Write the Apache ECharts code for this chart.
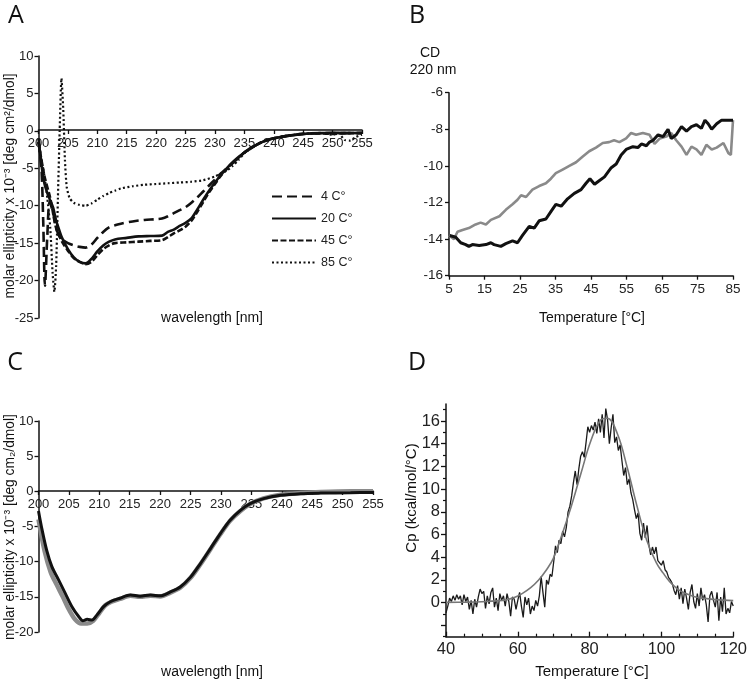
<!DOCTYPE html>
<html><head><meta charset="utf-8">
<script src="https://cdn.jsdelivr.net/npm/echarts@6/dist/echarts.min.js"></script>
<style>html,body{margin:0;padding:0;background:#fff}#c{width:750px;height:680px}</style>
</head><body><div id="c"></div>
<script>
// ---------- Panel A: CD spectra at four temperatures ----------
const A_4C = [[200,-1.5],[200.5,-5],[200.8,-12],[201.1,-20.7],[201.5,-14],[201.9,-9.5],[202.5,-11],[203,-13],[203.5,-14],[204,-14.5],[205,-15],[206,-15.3],[207,-15.5],[208,-15.6],[209,-15.2],[210,-14.3],[211,-13.5],[212,-12.9],[213,-12.6],[214,-12.4],[216,-12.1],[218,-11.9],[220,-11.8],[221,-11.7],[222,-11.4],[223,-11.0],[224,-10.6],[225,-10.2],[226,-9.6],[227,-8.9],[228,-8.1],[229,-7.3],[230,-6.5],[231,-5.7],[232,-5.0],[233,-4.3],[234,-3.6],[235,-2.9],[236,-2.4],[237,-1.9],[238,-1.5],[240,-1.0],[242,-0.7],[245,-0.4],[248,-0.3],[250,-0.3],[252,-0.3],[255,-0.3]];
const A_20C = [[200,-1],[200.5,-4.5],[201,-7],[201.5,-8.3],[202,-9.3],[202.5,-10.3],[203,-12],[203.5,-13.2],[204,-14.3],[205,-15.8],[206,-16.9],[207,-17.5],[208,-17.7],[209,-17.1],[210,-16.1],[211,-15.3],[212,-14.8],[213,-14.5],[215,-14.3],[217,-14.1],[219,-14.05],[221,-14.0],[222,-13.5],[223,-13.2],[224,-12.7],[225,-12.3],[226,-11.7],[227,-10.5],[228,-9.2],[229,-8.0],[230,-6.9],[231,-5.9],[232,-5.0],[233,-4.2],[234,-3.5],[235,-2.9],[236,-2.3],[237,-1.9],[238,-1.5],[239,-1.2],[240,-1.0],[242,-0.7],[244,-0.5],[246,-0.35],[248,-0.3],[250,-0.25],[252,-0.3],[255,-0.25]];
const A_45C = [[200,-1.5],[201,-6],[202,-9],[203,-13],[204,-14.8],[205,-16],[206,-17],[207,-17.5],[208,-17.8],[209,-17.5],[210,-16.6],[211,-15.8],[212,-15.3],[213,-15.0],[215,-14.9],[217,-14.8],[219,-14.7],[221,-14.6],[222,-14.2],[223,-13.7],[224,-13.3],[225,-12.8],[226,-12.0],[227,-10.8],[228,-9.5],[229,-8.2],[230,-7.1],[231,-6.0],[232,-5.1],[233,-4.3],[234,-3.6],[235,-2.9],[236,-2.4],[237,-1.9],[238,-1.5],[240,-1.0],[242,-0.7],[245,-0.4],[248,-0.35],[250,-0.4],[252,-0.3],[255,-0.3]];
const A_85C = [[200,-1.5],[201,-6],[201.5,-9],[202,-13],[202.4,-19],[202.7,-21.5],[203,-18],[203.3,-9],[203.6,0],[203.9,7],[204.2,3],[204.5,-4],[204.8,-7.5],[205.3,-9],[206,-9.6],[207,-9.9],[208,-10.0],[209,-9.7],[210,-9.2],[211,-8.7],[212,-8.3],[213,-8.0],[214,-7.7],[216,-7.4],[218,-7.2],[220,-7.1],[222,-7.0],[224,-6.9],[226,-6.8],[228,-6.6],[230,-6.1],[231,-5.7],[232,-5.3],[233,-4.7],[234,-3.9],[235,-3.0],[236,-2.4],[237,-1.9],[238,-1.5],[240,-1.0],[242,-0.7],[245,-0.4],[248,-0.3],[250,-0.5],[251,-0.3],[252,-1.2],[253,-1.3],[254,-0.8],[255,-0.5]];
const A_names = ['4 C°','20 C°','45 C°','85 C°'];

// ---------- Panel B: CD at 220 nm vs temperature ----------
const B_black = [[5.2,-13.8],[6.9,-13.9],[8.3,-14.2],[9.7,-14.3],[10.6,-14.4],[11.6,-14.3],[13.5,-14.35],[15.4,-14.3],[16.8,-14.2],[17.7,-14.3],[19.6,-14.4],[21,-14.25],[22.9,-14.1],[24.3,-14.2],[25.7,-13.8],[27.6,-13.3],[29,-13.4],[30.4,-13.0],[32.3,-12.9],[33.7,-12.5],[35.1,-12.1],[36.6,-12.2],[38.4,-11.8],[40.3,-11.5],[42.2,-11.3],[43.6,-10.95],[44.7,-10.7],[46,-11.0],[47.4,-10.8],[48.8,-10.6],[50.7,-10.1],[52.1,-9.9],[53.5,-9.4],[54.9,-9.1],[56.8,-8.95],[58.2,-9.0],[59.2,-8.8],[60.6,-8.9],[61.5,-8.7],[62.5,-8.6],[63.9,-8.3],[65.3,-8.4],[66.7,-8.0],[67.6,-8.5],[69,-8.3],[70.5,-7.85],[71.9,-8.1],[73.3,-7.85],[74.7,-7.75],[76.1,-7.95],[77.1,-7.5],[78,-7.7],[79,-8.0],[80.4,-7.7],[81.8,-7.5],[83.7,-7.5],[85,-7.5]];
const B_gray = [[5,-13.8],[6.4,-14.0],[7.4,-13.6],[8.8,-13.5],[10.6,-13.4],[12.5,-13.2],[13.9,-13.1],[15.4,-13.2],[16.8,-12.95],[19.2,-12.75],[21,-12.4],[22.9,-12.1],[24.3,-11.85],[25.3,-11.6],[26.7,-11.7],[28.5,-11.3],[30.4,-11.1],[32.3,-10.95],[33.7,-10.7],[35.1,-10.4],[37,-10.2],[38.9,-10.0],[40.8,-9.8],[42.6,-9.5],[44.5,-9.2],[46.4,-9.0],[48.3,-8.75],[50.1,-8.7],[51.5,-8.6],[53,-8.7],[54.9,-8.5],[56.3,-8.2],[57.7,-8.3],[59.6,-8.2],[61.5,-8.3],[62.9,-8.8],[64.4,-8.5],[66.2,-8.4],[67.6,-8.2],[69,-8.6],[70.5,-8.95],[71.9,-9.4],[73.3,-8.95],[74.7,-9.1],[76.1,-9.4],[77.5,-8.85],[79,-9.1],[80.4,-9.0],[82.3,-8.75],[83.7,-9.3],[84.4,-9.4],[85,-7.5]];
const B_xticks = [5,15,25,35,45,55,65,75,85];

// ---------- Panel C: two CD spectra ----------
const C_black = [[200,-2.8],[200.5,-5.1],[201.35,-8.4],[202.2,-10.7],[203.3,-12.6],[204.4,-14.5],[205.5,-16.4],[206.6,-17.8],[207.3,-18.4],[208,-18.2],[208.8,-18.3],[209.6,-17.6],[210.7,-16.4],[211.8,-15.7],[213.4,-15.2],[215.1,-14.75],[216.7,-14.9],[218.4,-14.75],[220,-14.85],[221.7,-14.3],[223.3,-13.6],[225,-12.2],[226.6,-10.3],[228.3,-8.1],[229.9,-6.0],[231.5,-4.1],[233.2,-2.7],[234.8,-1.75],[237,-1.04],[239.8,-0.57],[243.1,-0.33],[246.4,-0.25],[251.3,-0.2],[255,-0.15]];
const C_gray = [[200,-4],[201,-8.5],[202,-11.5],[203,-13.3],[204,-15.0],[205,-16.8],[206,-18.2],[207,-18.8],[208,-18.8],[209,-18.4],[210,-17.3],[211,-16.2],[212,-15.7],[213.4,-15.3],[215.1,-14.85],[216.7,-15.0],[218.4,-14.85],[220,-14.95],[221.7,-14.4],[223.3,-13.7],[225,-12.3],[226.6,-10.4],[228.3,-8.2],[229.9,-6.1],[231.5,-4.2],[233.2,-2.8],[234.8,-1.8],[237,-1.0],[239.8,-0.5],[243.1,-0.25],[246.4,-0.1],[251.3,0],[255,0]];

// ---------- Panel D: DSC thermogram and fit ----------
const D_temp = [40,40.5,41,41.5,42,42.5,43,43.5,44,44.5,45,45.5,46,46.5,47,47.5,48,48.5,49,49.5,50,50.5,51,51.5,52,52.5,53,53.5,54,54.5,55,55.5,56,56.5,57,57.5,58,58.5,59,59.5,60,60.5,61,61.5,62,62.5,63,63.5,64,64.5,65,65.5,66,66.5,67,67.5,68,68.5,69,69.5,70,70.5,71,71.5,72,72.5,73,73.5,74,74.5,75,75.5,76,76.5,77,77.5,78,78.5,79,79.5,80,80.5,81,81.5,82,82.5,83,83.5,84,84.5,85,85.5,86,86.5,87,87.5,88,88.5,89,89.5,90,90.5,91,91.5,92,92.5,93,93.5,94,94.5,95,95.5,96,96.5,97,97.5,98,98.5,99,99.5,100,100.5,101,101.5,102,102.5,103,103.5,104,104.5,105,105.5,106,106.5,107,107.5,108,108.5,109,109.5,110,110.5,111,111.5,112,112.5,113,113.5,114,114.5,115,115.5,116,116.5,117,117.5,118,118.5,119,119.5,120];
const D_cp = [-0.9,-0.3,0.4,0.1,0.6,0.2,0.7,0.3,0.6,-0.2,0.7,0.1,0.5,-0.6,0.2,-1.0,0.3,-0.4,0.5,1.2,0.8,1.0,-0.5,0.6,-0.1,0.9,1.3,-0.4,0.4,-0.7,0.8,0.2,0.6,-0.3,0.8,0.1,-1.2,0.5,0.3,-0.6,0.2,0.9,-0.3,-1.3,0.5,-0.2,0.4,-1.0,-0.3,-0.7,0.2,-0.3,0.6,2.3,0.9,-0.4,2.0,1.6,2.5,2.3,3.6,5.0,4.4,5.5,5.2,6.3,5.8,6.6,8.0,8.5,9.4,10.6,11.6,10.4,11.8,12.9,13.3,12.8,14.1,15.5,15.0,15.6,15.2,15.9,14.9,16.2,15.0,16.6,14.5,17.1,16.1,14.0,15.4,16.6,14.1,14.6,13.4,13.9,12.5,11.2,11.9,10.4,10.9,9.7,9.1,8.2,7.4,7.9,6.1,5.5,7.0,5.7,6.8,5.1,4.2,4.9,4.3,4.9,3.7,3.6,3.3,3.7,2.9,2.7,2.2,2.0,1.7,1.1,0.7,1.5,0.3,1.3,-0.1,1.2,0.4,-0.6,0.9,1.6,0.1,-0.5,0.8,-0.3,1.3,0.2,0.7,-0.2,-1.7,0.6,1.0,0.2,-0.4,0.9,-1.6,0.5,-0.8,1.3,-1.0,-0.5,-0.9,0.1,-0.3];
const D_fitT = [40,45,50,54,56.6,59,61.2,63.5,65.8,68,69.9,72.1,74.9,77.6,80.4,83.1,84.9,87.7,90.4,93.2,95.9,98.6,100.5,102.3,104.5,106.8,109,111.4,115,120];
const D_fitCp = [0.02,0.04,0.08,0.16,0.24,0.45,0.8,1.3,2.0,2.9,3.9,5.8,8.5,11.4,14.3,16.1,16.25,14.9,12.0,8.5,5.5,3.5,2.6,1.85,1.2,0.8,0.55,0.4,0.27,0.18];
const D_yLabels = [0,2,4,6,8,10,12,14,16];
const D_yTicks = [-2,0,2,4,6,8,10,12,14,16];
const D_yMinor = [-3,-1,1,3,5,7,9,11,13,15,17];

// ---------- styles ----------
const FONT = '"Liberation Sans", Arial, sans-serif';
const axisLine = {show:true, onZero:false, lineStyle:{color:'#111', width:1.5}};
const tick = {show:true, length:4, lineStyle:{color:'#111', width:1.3}};
const lab = {color:'#222', fontSize:13, fontFamily:FONT, margin:5};

const chart = echarts.init(document.getElementById('c'), null, {renderer:'canvas'});

function txt(text, x, y, size, rot, font) {
  return {type:'text', x:x, y:y, rotation: rot || 0,
    style:{text:text, fill:'#111', font: size + 'px ' + (font || FONT), textAlign:'center', textVerticalAlign:'middle'}};
}

const option = {
  animation:false,
  backgroundColor:'#fff',
  grid:[
    {left:38.5, top:56, width:323.5, height:262},
    {left:449, top:92.7, width:284, height:183},
    {left:38.5, top:421, width:334.5, height:211},
    {left:446, top:404, width:292, height:232.7}
  ],
  xAxis:[
    {gridIndex:0, type:'value', min:200, max:255, interval:5, position:'bottom', offset:-188,
      axisLine:axisLine, axisTick:tick, axisLabel:Object.assign({}, lab, {margin:7}), splitLine:{show:false}},
    {gridIndex:1, type:'value', min:5, max:85, axisLine:axisLine,
      axisTick:Object.assign({}, tick, {customValues:B_xticks}),
      axisLabel:Object.assign({}, lab, {fontSize:13.5, customValues:B_xticks, margin:7}), splitLine:{show:false}},
    {gridIndex:2, type:'value', min:200, max:255, interval:5, position:'bottom', offset:-141,
      axisLine:axisLine, axisTick:tick, axisLabel:Object.assign({}, lab, {margin:7}), splitLine:{show:false}},
    {gridIndex:3, type:'value', min:40, max:120, interval:20, axisLine:axisLine,
      axisTick:{show:true, inside:true, length:5, lineStyle:{color:'#111', width:1.3}},
      minorTick:{show:true, splitNumber:4, length:3, lineStyle:{color:'#111', width:1.2}},
      axisLabel:Object.assign({}, lab, {fontSize:16.5, margin:4}), splitLine:{show:false}}
  ],
  yAxis:[
    {gridIndex:0, type:'value', min:-25, max:10, interval:5, axisLine:axisLine, axisTick:tick, axisLabel:lab, splitLine:{show:false}},
    {gridIndex:1, type:'value', min:-16, max:-6, interval:2, axisLine:axisLine, axisTick:tick, axisLabel:Object.assign({}, lab, {fontSize:13.5, margin:6}), splitLine:{show:false}},
    {gridIndex:2, type:'value', min:-20, max:10, interval:5, axisLine:axisLine, axisTick:tick, axisLabel:lab, splitLine:{show:false}},
    {gridIndex:3, type:'value', min:-3, max:17.5, position:'left', axisLine:axisLine,
      axisTick:{show:true, length:5, customValues:D_yTicks, lineStyle:{color:'#111', width:1.3}},
      axisLabel:Object.assign({}, lab, {fontSize:16.5, margin:6, customValues:D_yLabels}), splitLine:{show:false}},
    {gridIndex:3, type:'value', min:-3, max:17.5, position:'left', axisLine:{show:false},
      axisTick:{show:true, length:3, customValues:D_yMinor, lineStyle:{color:'#111', width:1.2}},
      axisLabel:{show:false}, splitLine:{show:false}}
  ],
  legend:{
    left:266, top:185, orient:'vertical', itemWidth:44, itemHeight:10, itemGap:9,
    itemStyle:{opacity:0},
    textStyle:{color:'#222', fontSize:12.5, fontFamily:FONT},
    data:A_names
  },
  series:[
    {name:A_names[0], type:'line', xAxisIndex:0, yAxisIndex:0, data:A_4C, showSymbol:false, symbol:'none', smooth:0.3,
      lineStyle:{color:'#111', width:2.6, type:[10,5]}, itemStyle:{color:'#111'}},
    {name:A_names[1], type:'line', xAxisIndex:0, yAxisIndex:0, data:A_20C, showSymbol:false, symbol:'none', smooth:0.3,
      lineStyle:{color:'#111', width:2.6, type:'solid'}, itemStyle:{color:'#111'}},
    {name:A_names[2], type:'line', xAxisIndex:0, yAxisIndex:0, data:A_45C, showSymbol:false, symbol:'none', smooth:0.3,
      lineStyle:{color:'#111', width:2.6, type:[6,2.5]}, itemStyle:{color:'#111'}},
    {name:A_names[3], type:'line', xAxisIndex:0, yAxisIndex:0, data:A_85C, showSymbol:false, symbol:'none', smooth:0.2,
      lineStyle:{color:'#111', width:2.2, type:[2,2.5]}, itemStyle:{color:'#111'}},
    {type:'line', xAxisIndex:1, yAxisIndex:1, data:B_gray, showSymbol:false, symbol:'none',
      lineStyle:{color:'#8a8a8a', width:2.6}},
    {type:'line', xAxisIndex:1, yAxisIndex:1, data:B_black, showSymbol:false, symbol:'none',
      lineStyle:{color:'#111', width:3}},
    {type:'line', xAxisIndex:2, yAxisIndex:2, data:C_gray, showSymbol:false, symbol:'none', smooth:0.3,
      lineStyle:{color:'#8a8a8a', width:4.5}},
    {type:'line', xAxisIndex:2, yAxisIndex:2, data:C_black, showSymbol:false, symbol:'none', smooth:0.3,
      lineStyle:{color:'#111', width:3}},
    {type:'line', xAxisIndex:3, yAxisIndex:3, data:D_temp.map((t,i)=>[t, D_cp[i]]), showSymbol:false, symbol:'none',
      lineStyle:{color:'#1a1a1a', width:1.3}},
    {type:'line', xAxisIndex:3, yAxisIndex:3, data:D_fitT.map((t,i)=>[t, D_fitCp[i]]), showSymbol:false, symbol:'none', smooth:0.4,
      lineStyle:{color:'#777', width:1.6}}
  ],
  graphic:[
    txt('A', 16, 16, 25, 0, '"Open Sans", sans-serif'),
    txt('B', 417, 16, 25, 0, '"Open Sans", sans-serif'),
    txt('C', 15, 363, 25, 0, '"Open Sans", sans-serif'),
    txt('D', 417, 363, 25, 0, '"Open Sans", sans-serif'),
    txt('wavelength [nm]', 212, 318, 14),
    txt('molar ellipticity x 10⁻³ [deg cm²/dmol]', 10, 186, 13.8, Math.PI/2),
    txt('CD', 430, 53, 14),
    txt('220 nm', 433, 70, 14),
    txt('Temperature [°C]', 592, 318, 14),
    txt('wavelength [nm]', 212, 672, 14),
    txt('molar ellipticity x 10⁻³ [deg cm₂/dmol]', 10, 527, 13.8, Math.PI/2),
    txt('Cp (kcal/mol/°C)', 412, 498, 15, Math.PI/2),
    txt('Temperature [°C]', 592, 672, 15)
  ]
};
chart.setOption(option);
</script>
</body></html>
